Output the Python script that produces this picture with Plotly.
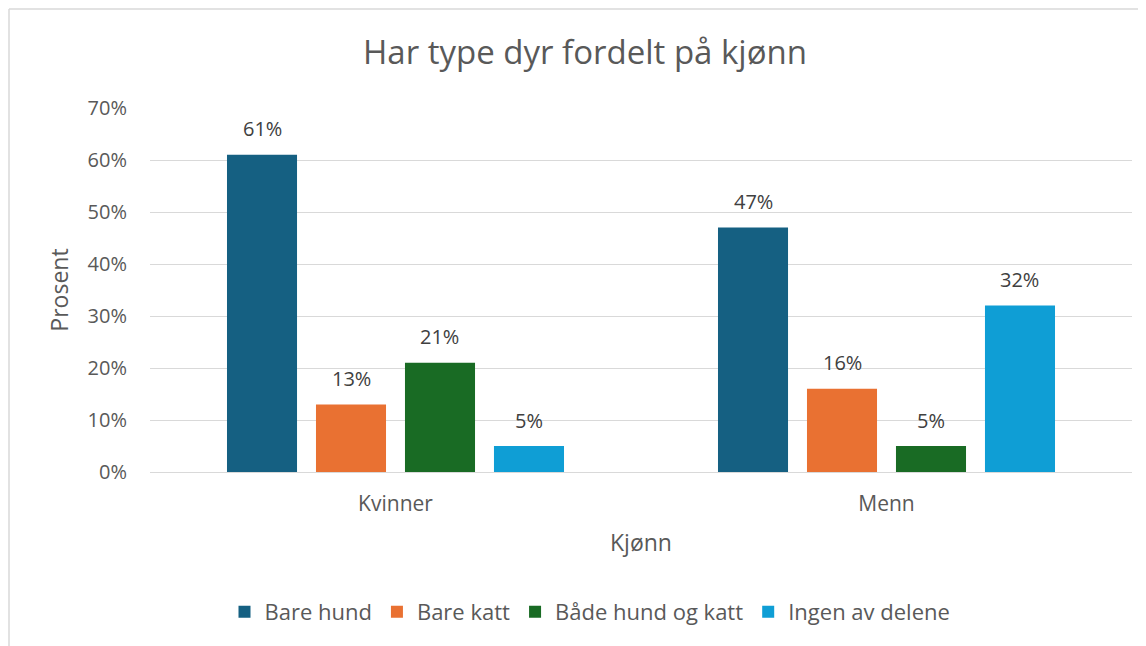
import plotly.graph_objects as go

categories = ["Kvinner", "Menn"]
series_names = ["Bare hund", "Bare katt", "Både hund og katt", "Ingen av delene"]
values = {
    "Bare hund": [61, 47],
    "Bare katt": [13, 16],
    "Både hund og katt": [21, 5],
    "Ingen av delene": [5, 32],
}
colors = ["#156082", "#E97132", "#196B24", "#0F9ED5"]
y_ticks = [0, 10, 20, 30, 40, 50, 60, 70]
y_tick_labels = [f"{v}%" for v in y_ticks]

# figure is drawn inside an 8px body margin, so coordinates are page minus 8
W, H = 1146, 646
L, R, T, B = 142, 22, 100, 182
pw, ph = W - L - R, H - T - B
FONT = "Open Sans, Roboto, sans-serif"
BARGAP, GROUPGAP = 0.275, 0.213

fig = go.Figure()
for name, col in zip(series_names, colors):
    fig.add_trace(go.Bar(
        name=name, x=categories, y=values[name],
        marker=dict(color=col, line=dict(width=0)),
        hoverinfo="skip",
    ))

# data labels placed above each bar, offset within the group through the bar slot width
cat_px = pw / len(categories)
slot_px = cat_px * (1 - BARGAP) / len(series_names)
for i, name in enumerate(series_names):
    shift = (i - (len(series_names) - 1) / 2) * slot_px
    for c, v in zip(categories, values[name]):
        fig.add_annotation(x=c, y=v, xref="x", yref="y", text=f"{v}%", showarrow=False,
                           xshift=shift, yshift=26, yanchor="middle",
                           font=dict(family=FONT, size=20, color="#404040"))

fx = lambda px: (px - L) / pw
fy = lambda py: (H - B - py) / ph
border = "#d9d9d9"
fig.add_shape(type="line", xref="paper", yref="paper", x0=fx(1), x1=fx(1), y0=fy(700), y1=fy(1),
              line=dict(color=border, width=1.5))
fig.add_shape(type="line", xref="paper", yref="paper", x0=fx(1), x1=fx(1200), y0=fy(1), y1=fy(1),
              line=dict(color=border, width=1.5))

fig.update_layout(
    width=W, height=H,
    margin=dict(l=L, r=R, t=T, b=B, autoexpand=False),
    paper_bgcolor="white", plot_bgcolor="white",
    barmode="group", bargap=BARGAP, bargroupgap=GROUPGAP,
    font=dict(family=FONT, color="#595959", size=20),
    title=dict(text="Har type dyr fordelt på kjønn", x=577 / W, xref="container", xanchor="center",
               y=1 - 44 / H, yref="container", yanchor="middle",
               font=dict(size=33, color="#595959")),
    showlegend=True,
    legend=dict(orientation="h", xref="container", yref="container", x=582 / W, xanchor="center",
                y=1 - 604 / H, yanchor="middle",
                font=dict(family=FONT, size=22, color="#595959"),
                itemwidth=30, traceorder="normal"),
    xaxis=dict(showgrid=False, showline=True, linecolor=border, linewidth=1, ticks="",
               tickfont=dict(size=21, color="#595959"), ticklabelstandoff=13,
               title=dict(text="Kjønn", font=dict(size=23, color="#595959"), standoff=18)),
    yaxis=dict(range=[0, 70], tickvals=y_ticks, ticktext=y_tick_labels, showgrid=True,
               gridcolor=border, gridwidth=1, zeroline=False, showline=False,
               ticklabelstandoff=22, tickfont=dict(size=20, color="#595959"),
               title=dict(text="Prosent", font=dict(size=23, color="#595959"), standoff=12)),
)

fig.write_html("out.html")
